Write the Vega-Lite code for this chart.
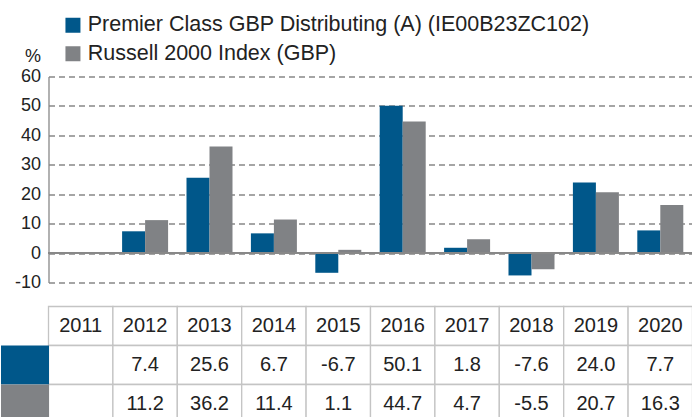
{
  "$schema": "https://vega.github.io/schema/vega-lite/v6.json",
  "padding": {"left": -19.5, "top": 14.5, "right": 0, "bottom": 0},
  "background": "white",
  "bounds": "flush",
  "spacing": 24,
  "config": {
    "font": "Liberation Sans",
    "view": {"stroke": null},
    "locale": {"number": {"decimal": ".", "thousands": ",", "grouping": [3], "currency": ["$", ""], "minus": "-"}}
  },
  "datasets": {
    "perf": [
      {"year": "2011", "series": "Premier Class GBP Distributing (A) (IE00B23ZC102)", "value": null},
      {"year": "2012", "series": "Premier Class GBP Distributing (A) (IE00B23ZC102)", "value": 7.4},
      {"year": "2013", "series": "Premier Class GBP Distributing (A) (IE00B23ZC102)", "value": 25.6},
      {"year": "2014", "series": "Premier Class GBP Distributing (A) (IE00B23ZC102)", "value": 6.7},
      {"year": "2015", "series": "Premier Class GBP Distributing (A) (IE00B23ZC102)", "value": -6.7},
      {"year": "2016", "series": "Premier Class GBP Distributing (A) (IE00B23ZC102)", "value": 50.1},
      {"year": "2017", "series": "Premier Class GBP Distributing (A) (IE00B23ZC102)", "value": 1.8},
      {"year": "2018", "series": "Premier Class GBP Distributing (A) (IE00B23ZC102)", "value": -7.6},
      {"year": "2019", "series": "Premier Class GBP Distributing (A) (IE00B23ZC102)", "value": 24.0},
      {"year": "2020", "series": "Premier Class GBP Distributing (A) (IE00B23ZC102)", "value": 7.7},
      {"year": "2011", "series": "Russell 2000 Index (GBP)", "value": null},
      {"year": "2012", "series": "Russell 2000 Index (GBP)", "value": 11.2},
      {"year": "2013", "series": "Russell 2000 Index (GBP)", "value": 36.2},
      {"year": "2014", "series": "Russell 2000 Index (GBP)", "value": 11.4},
      {"year": "2015", "series": "Russell 2000 Index (GBP)", "value": 1.1},
      {"year": "2016", "series": "Russell 2000 Index (GBP)", "value": 44.7},
      {"year": "2017", "series": "Russell 2000 Index (GBP)", "value": 4.7},
      {"year": "2018", "series": "Russell 2000 Index (GBP)", "value": -5.5},
      {"year": "2019", "series": "Russell 2000 Index (GBP)", "value": 20.7},
      {"year": "2020", "series": "Russell 2000 Index (GBP)", "value": 16.3}
    ]
  },
  "vconcat": [
    {
      "width": 644,
      "height": 206,
      "data": {"name": "perf"},
      "layer": [
        {
          "mark": {"type": "bar"},
          "encoding": {
            "x": {"field": "year", "type": "ordinal", "scale": {"domain": ["2011","2012","2013","2014","2015","2016","2017","2018","2019","2020"], "paddingInner": 0, "paddingOuter": 0}, "axis": null},
            "xOffset": {"field": "series", "type": "nominal", "scale": {"domain": ["Premier Class GBP Distributing (A) (IE00B23ZC102)", "Russell 2000 Index (GBP)"], "paddingOuter": 0.4, "paddingInner": 0}},
            "y": {
              "field": "value", "type": "quantitative",
              "scale": {"domain": [-10, 60], "nice": false, "zero": false},
              "axis": {
                "values": [-10, 0, 10, 20, 30, 40, 50, 60],
                "tickCount": 20,
                "labelOverlap": false,
                "title": "%", "titleAngle": 0, "titleX": -16, "titleY": -20,
                "titleAlign": "center", "titleBaseline": "middle",
                "titleFontSize": 18, "titleFontWeight": "normal", "titleColor": "#222",
                "labelFontSize": 18, "labelColor": "#222", "labelPadding": 8,
                "ticks": false, "tickSize": 0,
                "domainColor": "#888", "domainWidth": 1.3,
                "grid": true, "gridColor": "#888", "gridDash": [6, 4], "gridWidth": 1.3
              }
            },
            "color": {
              "field": "series", "type": "nominal",
              "scale": {"domain": ["Premier Class GBP Distributing (A) (IE00B23ZC102)", "Russell 2000 Index (GBP)"], "range": ["#00578a", "#808285"]},
              "legend": {
                "orient": "none", "legendX": 13.7, "legendY": -62, "padding": 0, "title": null,
                "symbolType": "square", "symbolSize": 225, "symbolStrokeWidth": 0,
                "labelFontSize": 21.5, "labelColor": "#222", "labelLimit": 700,
                "rowPadding": 5.5, "labelOffset": 4
              }
            }
          }
        },
        {
          "mark": {"type": "rule", "color": "#888", "strokeWidth": 1.5},
          "encoding": {"y": {"datum": 0, "type": "quantitative"}}
        }
      ]
    },
    {
      "width": 644,
      "height": 117,
      "layer": [
        {
          "data": {"name": "perf"},
          "transform": [{"filter": "datum.series === 'Russell 2000 Index (GBP)'"}],
          "layer": [
            {
              "mark": {"type": "rect", "fill": "white", "stroke": "#c4c4c4", "strokeWidth": 1.3},
              "encoding": {
                "x": {"field": "year", "type": "ordinal", "scale": {"domain": ["2011","2012","2013","2014","2015","2016","2017","2018","2019","2020"], "paddingInner": 0, "paddingOuter": 0}, "axis": null},
                "y": {"datum": "Year", "type": "nominal",
                  "scale": {"domain": ["Year", "Premier Class GBP Distributing (A) (IE00B23ZC102)", "Russell 2000 Index (GBP)"], "paddingInner": 0, "paddingOuter": 0},
                  "axis": {"values": ["Premier Class GBP Distributing (A) (IE00B23ZC102)", "Russell 2000 Index (GBP)"], "labels": false, "domain": false, "grid": false, "title": null,
                    "tickSize": 48, "tickWidth": 39, "tickCap": "butt",
                    "tickColor": {"condition": {"test": "datum.value === 'Russell 2000 Index (GBP)'", "value": "#808285"}, "value": "#00578a"}}
                }
              }
            },
            {
              "mark": {"type": "text", "fontSize": 20, "color": "#222"},
              "encoding": {
                "x": {"field": "year", "type": "ordinal", "axis": null},
                "y": {"datum": "Year", "type": "nominal"},
                "text": {"field": "year"}
              }
            }
          ]
        },
        {
          "data": {"name": "perf"},
          "layer": [
            {
              "mark": {"type": "rect", "fill": "white", "stroke": "#c4c4c4", "strokeWidth": 1.3},
              "encoding": {
                "x": {"field": "year", "type": "ordinal", "axis": null},
                "y": {"field": "series", "type": "nominal"}
              }
            },
            {
              "transform": [{"filter": "datum.value != null"}],
              "mark": {"type": "text", "fontSize": 20, "color": "#222"},
              "encoding": {
                "x": {"field": "year", "type": "ordinal", "axis": null},
                "y": {"field": "series", "type": "nominal"},
                "text": {"field": "value", "type": "quantitative", "format": ".1f"}
              }
            }
          ]
        }
      ]
    }
  ]
}
